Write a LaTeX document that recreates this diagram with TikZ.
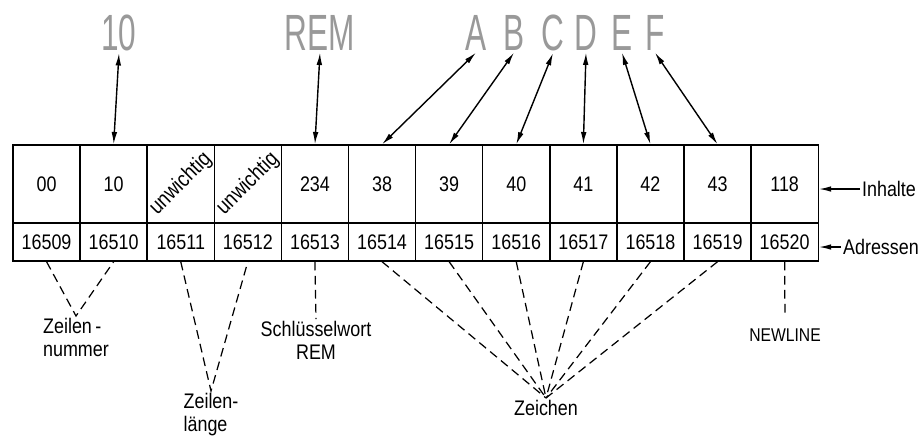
\documentclass[tikz,border=0pt]{standalone}
\usepackage{fontspec}
\setmainfont{Liberation Sans}[FakeStretch=0.85]
\newfontfamily\stencilfont{Liberation Sans}[FakeStretch=0.62]
\usetikzlibrary{arrows.meta}

\begin{document}
\begin{tikzpicture}[x=0.02cm, y=-0.02cm, >={Latex[length=7pt,width=3.2pt]},
    cell/.style={draw, line width=0.8pt, minimum width=1.342cm, inner sep=0pt, font=\fontsize{12}{14}\selectfont},
    glyph/.style={inner sep=1pt, text=black!40, font=\stencilfont\fontsize{29}{30}\selectfont},
    lbl/.style={inner sep=1pt, font=\fontsize{12}{13}\selectfont},
    guide/.style={line width=0.7pt, dash pattern=on 5pt off 3pt}]
  \useasboundingbox (0,0) rectangle (919,437);
  % memory cells
  \foreach \val [count=\i] in {00,10,{},{},234,38,39,40,41,42,43,118}
    \node[cell, minimum height=1.56cm] (c\i) at ({13+67.1*(\i-0.5)},184) {\val};
  \foreach \adr [count=\i] in {16509,16510,16511,16512,16513,16514,16515,16516,16517,16518,16519,16520}
    \node[cell, minimum height=0.76cm] (a\i) at ({13+67.1*(\i-0.5)},242) {\adr};
  \node[lbl, rotate=45, font=\fontsize{12.5}{13}\selectfont] (u3) at (c3.center) {unwichtig};
  \node[lbl, rotate=45, font=\fontsize{12.5}{13}\selectfont] (u4) at (c4.center) {unwichtig};

  % characters on top
  \node[glyph] (tnum) at (119,33) {10};
  \node[glyph] (trem) at (320,33) {REM};
  \foreach \ch/\px in {A/476,B/514,C/553,D/586,E/622,F/655}
    \node[glyph] (t\ch) at (\px,33) {\ch};
  \draw[<->, thick] (tnum.south) -- (c2.north);
  \draw[<->, thick] (trem.south) -- (c5.north);
  \foreach \ch/\k in {A/6,B/7,C/8,D/9,E/10,F/11}
    \draw[<->, thick] (t\ch.south) -- (c\k.north);

  % right side
  \node[lbl, anchor=west] (lin) at (860,189) {Inhalte};
  \node[lbl, anchor=west] (lad) at (841,247) {Adressen};
  \draw[->, thick] (lin.west) -- (lin.west -| c12.east);
  \draw[->, thick] (lad.west) -- (lad.west -| c12.east);

  % labels below
  \node[lbl, anchor=north, align=left] (lnum) at (76,316) {Zeilen\,-\\nummer};
  \node[lbl, anchor=north, align=left] (llen) at (211,391) {Zeilen-\\länge};
  \node[lbl, anchor=north, align=center] (lkey) at (316,319) {Schlüsselwort\\REM};
  \node[lbl, anchor=north] (lchr) at (546,398) {Zeichen};
  \node[lbl, anchor=north, font=\fontsize{10.5}{12}\selectfont] (lnl) at (785,327) {NEWLINE};
  \draw[guide] (a1.south) -- (lnum.north) -- (a2.south);
  \draw[guide] (a3.south) -- (llen.north) -- (a4.south);
  \draw[guide] (a5.south) -- (lkey.north);
  \foreach \k in {6,...,11}
    \draw[guide] (a\k.south) -- (lchr.north);
  \draw[guide, shorten >=7pt] (a12.south) -- (lnl.north);
\end{tikzpicture}
\end{document}
